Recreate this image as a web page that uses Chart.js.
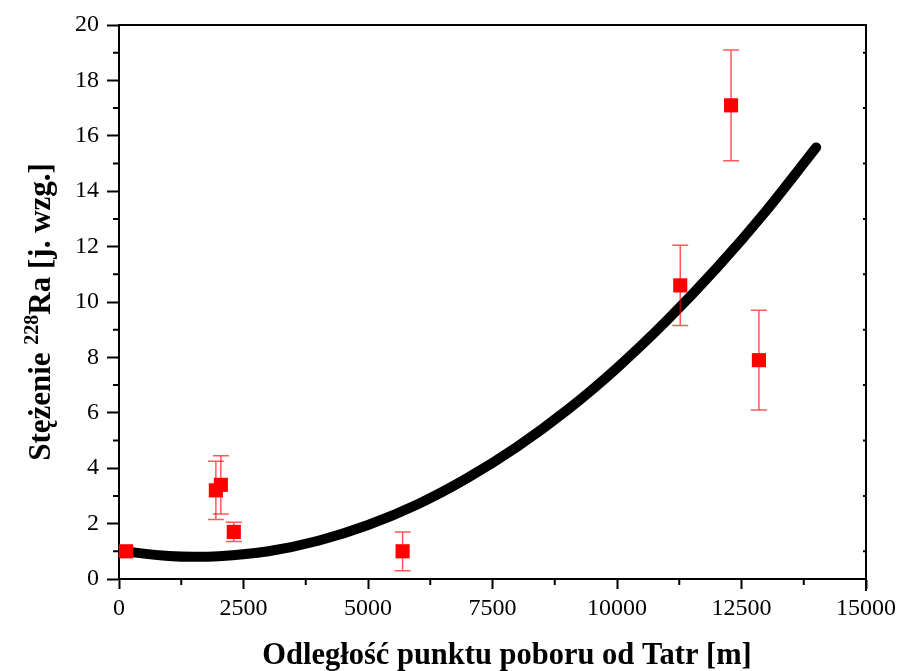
<!DOCTYPE html>
<html>
<head>
<meta charset="utf-8">
<script src="https://cdn.jsdelivr.net/npm/chart.js@4.4.0/dist/chart.umd.min.js"></script>
<style>
  html, body { margin: 0; padding: 0; background: #fff; }
  #wrap { width: 901px; height: 671px; }
</style>
</head>
<body>
<div id="wrap"><canvas id="chart" width="901" height="671"></canvas></div>
<script>
// measured points: distance from the Tatra mountains [m], 228Ra concentration, error
const distances = [140, 1945, 2045, 2305, 5695, 11270, 12290, 12850];
const radium = [1.0, 3.2, 3.4, 1.7, 1.0, 10.6, 17.1, 7.9];
const radiumErr = [0.15, 1.05, 1.05, 0.35, 0.7, 1.45, 2.0, 1.8];

// fitted trend curve
const fitX = [0, 1000, 1500, 2000, 3000, 4000, 5000, 6000, 7000, 8000, 9000, 10000, 11000, 12000, 13000, 14000];
const fitY = [1.02, 0.83, 0.8, 0.82, 1.0, 1.38, 1.95, 2.7, 3.65, 4.78, 6.1, 7.62, 9.33, 11.22, 13.3, 15.58];

const xTicks = [0, 2500, 5000, 7500, 10000, 12500, 15000];
const yTicks = [0, 2, 4, 6, 8, 10, 12, 14, 16, 18, 20];

const xTitle = "Odległość punktu poboru od Tatr [m]";
const yTitleParts = ["Stężenie ", "228", "Ra [j. wzg.]"];

const serif = '"Liberation Serif", "Times New Roman", serif';

const toPoints = (xs, ys) => xs.map((x, i) => ({ x: x, y: ys[i] }));

// error bars, minor ticks, top/right frame and axis titles
const extras = {
  id: "extras",
  afterDatasetsDraw(chart) {
    const ctx = chart.ctx;
    const xs = chart.scales.x;
    const ys = chart.scales.y;
    ctx.save();
    ctx.strokeStyle = "rgba(255, 0, 0, 0.65)";
    ctx.lineWidth = 1.5;
    distances.forEach((d, i) => {
      const px = xs.getPixelForValue(d);
      const top = ys.getPixelForValue(radium[i] + radiumErr[i]);
      const bot = ys.getPixelForValue(radium[i] - radiumErr[i]);
      ctx.beginPath();
      ctx.moveTo(px, top);
      ctx.lineTo(px, bot);
      ctx.moveTo(px - 8, top);
      ctx.lineTo(px + 8, top);
      ctx.moveTo(px - 8, bot);
      ctx.lineTo(px + 8, bot);
      ctx.stroke();
    });
    ctx.restore();
  },
  afterDraw(chart) {
    const ctx = chart.ctx;
    const area = chart.chartArea;
    const xs = chart.scales.x;
    const ys = chart.scales.y;
    ctx.save();
    ctx.strokeStyle = "#000";
    ctx.lineWidth = 2;
    // frame
    ctx.beginPath();
    ctx.moveTo(area.left - 1, area.top);
    ctx.lineTo(area.right, area.top);
    ctx.lineTo(area.right, area.bottom + 12);
    ctx.stroke();
    // minor ticks
    ctx.beginPath();
    for (let i = 0; i < yTicks.length - 1; i++) {
      const py = ys.getPixelForValue((yTicks[i] + yTicks[i + 1]) / 2);
      ctx.moveTo(area.left - 6, py);
      ctx.lineTo(area.left, py);
      ctx.moveTo(area.right - 3, py);
      ctx.lineTo(area.right, py);
    }
    for (let i = 0; i < xTicks.length - 1; i++) {
      const px = xs.getPixelForValue((xTicks[i] + xTicks[i + 1]) / 2);
      ctx.moveTo(px, area.bottom);
      ctx.lineTo(px, area.bottom + 6);
    }
    ctx.stroke();

    // x title
    ctx.fillStyle = "#000";
    ctx.font = "bold 30.5px " + serif;
    ctx.textAlign = "center";
    ctx.textBaseline = "middle";
    ctx.fillText(xTitle, 507, 656);

    // y title with superscript
    const big = "bold 31px " + serif;
    const small = "bold 20px " + serif;
    ctx.font = big;
    const w0 = ctx.measureText(yTitleParts[0]).width;
    const w2 = ctx.measureText(yTitleParts[2]).width;
    ctx.font = small;
    const w1 = ctx.measureText(yTitleParts[1]).width;
    const total = w0 + w1 + w2;
    ctx.translate(50, 312);
    ctx.rotate(-Math.PI / 2);
    ctx.textAlign = "left";
    ctx.textBaseline = "alphabetic";
    let cx = -total / 2;
    ctx.font = big;
    ctx.fillText(yTitleParts[0], cx, 0);
    cx += w0;
    ctx.font = small;
    ctx.fillText(yTitleParts[1], cx, -12);
    cx += w1;
    ctx.font = big;
    ctx.fillText(yTitleParts[2], cx, 0);
    ctx.restore();
  }
};

new Chart(document.getElementById("chart"), {
  type: "scatter",
  data: {
    datasets: [
      {
        label: "fit",
        data: toPoints(fitX, fitY),
        showLine: true,
        borderColor: "#000",
        borderWidth: 10,
        borderCapStyle: "round",
        borderJoinStyle: "round",
        cubicInterpolationMode: "monotone",
        pointRadius: 0,
        order: 2
      },
      {
        label: "228Ra",
        data: toPoints(distances, radium),
        pointStyle: "rect",
        pointRadius: 10,
        pointHoverRadius: 10,
        backgroundColor: "#ff0000",
        borderColor: "#ff0000",
        borderWidth: 0,
        order: 1
      }
    ]
  },
  options: {
    responsive: false,
    animation: false,
    devicePixelRatio: 1,
    layout: { padding: { top: 25, right: 35, left: 0, bottom: 0 } },
    plugins: {
      legend: { display: false },
      tooltip: { enabled: false }
    },
    scales: {
      x: {
        type: "linear",
        min: 0,
        max: 15000,
        afterBuildTicks: (scale) => { scale.ticks = xTicks.map((v) => ({ value: v })); },
        afterFit: (scale) => { scale.height = 92; },
        grid: { drawOnChartArea: false, tickLength: 10, tickWidth: 2, color: "#000" },
        border: { display: true, color: "#000", width: 2 },
        ticks: {
          color: "#000",
          padding: 5,
          maxRotation: 0,
          font: { family: serif, size: 24 },
          callback: (v) => String(v)
        }
      },
      y: {
        type: "linear",
        min: 0,
        max: 20,
        afterBuildTicks: (scale) => { scale.ticks = yTicks.map((v) => ({ value: v })); },
        afterFit: (scale) => { scale.width = 119; },
        grid: { drawOnChartArea: false, tickLength: 12, tickWidth: 2, color: "#000" },
        border: { display: true, color: "#000", width: 2 },
        ticks: {
          color: "#000",
          padding: 8,
          font: { family: serif, size: 24 },
          callback: (v) => String(v)
        }
      }
    }
  },
  plugins: [extras]
});
</script>
</body>
</html>
